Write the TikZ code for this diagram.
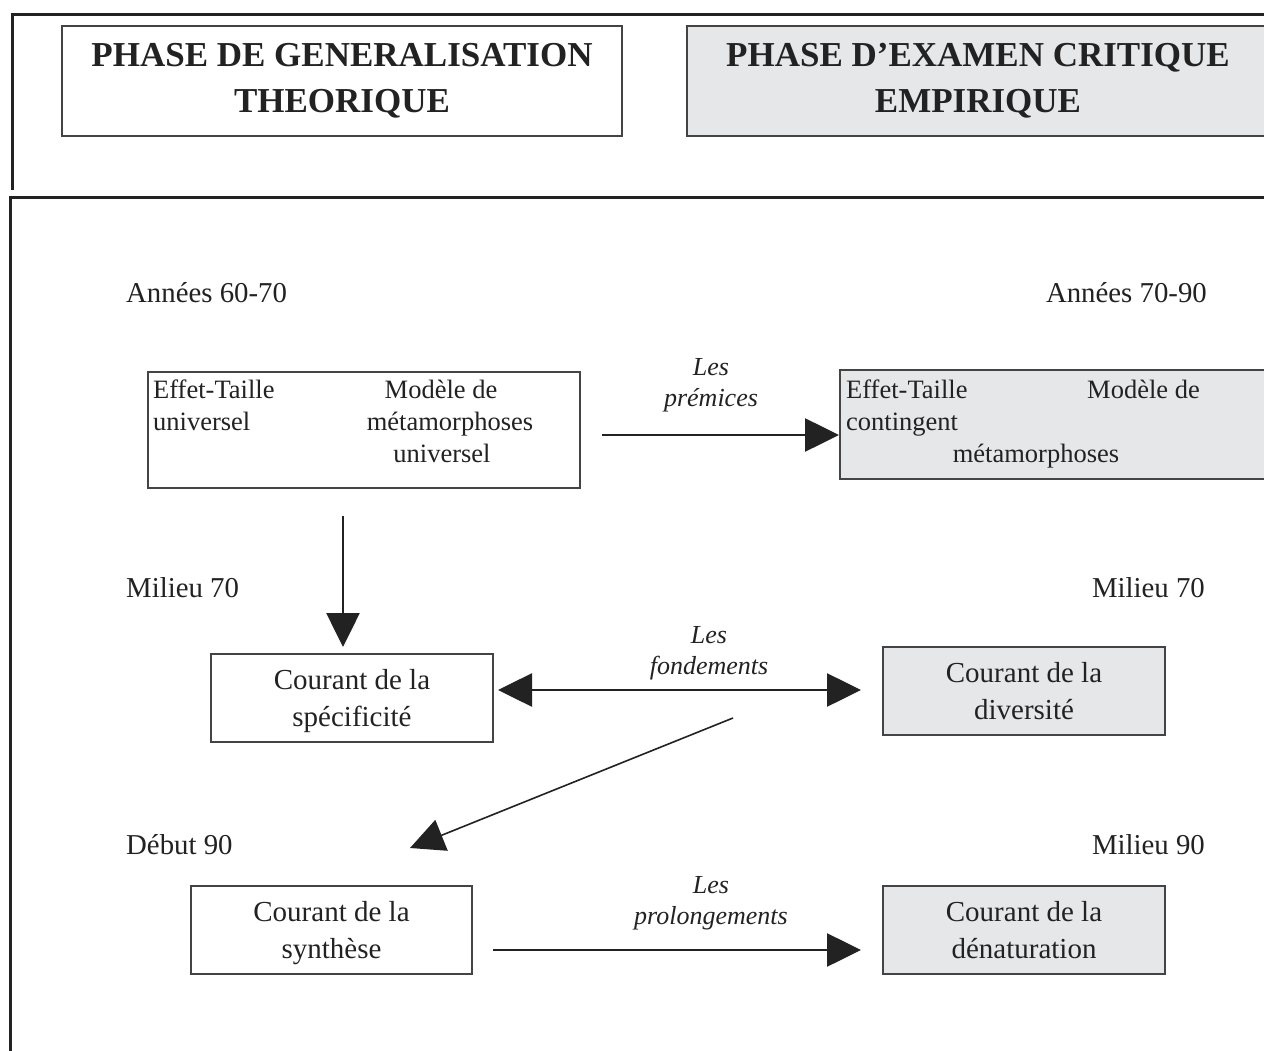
\documentclass[tikz,border=0pt]{standalone}
\usepackage{fontspec}
\setmainfont{Liberation Serif}
\usetikzlibrary{arrows.meta}
\definecolor{ink}{HTML}{222222}
\definecolor{boxline}{HTML}{444444}
\definecolor{greyfill}{HTML}{E6E7E8}
\tikzset{
  frame/.style={line width=3pt, draw=ink},
  box/.style={draw=boxline, line width=2pt, inner sep=0pt, text=ink, align=center},
  greybox/.style={box, fill=greyfill},
  hdr/.style={font=\fontsize{35}{46}\selectfont\bfseries},
  cour/.style={inner sep=0pt, text=ink, align=center, font=\fontsize{29}{37}\selectfont},
  txt/.style={inner sep=0pt, text=ink, font=\fontsize{26.5}{32}\selectfont},
  dlab/.style={inner sep=0pt, text=ink, font=\fontsize{28.8}{34}\selectfont},
  lab/.style={inner sep=0pt, text=ink, align=center, font=\fontsize{26}{31}\selectfont\itshape},
  arr/.style={-{Triangle[length=34pt,width=33pt]}, line width=2.6pt, draw=ink},
  darr/.style={{Triangle[length=34pt,width=33pt]}-{Triangle[length=34pt,width=33pt]}, line width=2.6pt, draw=ink},
  thinarr/.style={-{Triangle[length=34pt,width=33pt]}, line width=1.6pt, draw=ink},
}
\begin{document}
\begin{tikzpicture}[x=1pt,y=-1pt]
\useasboundingbox (0,0) rectangle (1264,1051);
\fill[white] (0,0) rectangle (1264,1051);
% frames
\draw[frame] (1270,15) -- (12,15) -- (12,190);
\draw[frame] (1270,198) -- (10,198) -- (10,1060);
% headers
\node[box, hdr, minimum width=560pt, minimum height=110pt] (H1) at (342,81) {PHASE DE GENERALISATION\\THEORIQUE};
\node[greybox, hdr, minimum width=582pt, minimum height=110pt] (H2) at (978,81) {PHASE D’EXAMEN CRITIQUE\\EMPIRIQUE};
% dates
\node[dlab, anchor=base west] (d1) at (126,302) {Années 60-70};
\node[dlab, anchor=base east] (d2) at (1207,302) {Années 70-90};
\node[dlab, anchor=base west] (d3) at (126,597) {Milieu 70};
\node[dlab, anchor=base east] (d4) at (1205,597) {Milieu 70};
\node[dlab, anchor=base west] (d5) at (126,854) {Début 90};
\node[dlab, anchor=base east] (d6) at (1205,854) {Milieu 90};
% box A
\node[box, minimum width=432pt, minimum height=116pt] (A) at (364,430) {};
\node[txt, anchor=base west] (a1) at (153,398) {Effet-Taille};
\node[txt, anchor=base west] (a2) at (153,430) {universel};
\node[txt, anchor=base] (a3) at (441,398) {Modèle de};
\node[txt, anchor=base] (a4) at (450,430) {métamorphoses};
\node[txt, anchor=base] (a5) at (442,462) {universel};
% box B
\node[greybox, minimum width=430pt, minimum height=109pt] (B) at (1055,424.5) {};
\node[txt, anchor=base west] (b1) at (846,398) {Effet-Taille};
\node[txt, anchor=base west] (b2) at (846,430) {contingent};
\node[txt, anchor=base west] (b3) at (1087,398) {Modèle de};
\node[txt, anchor=base] (b4) at (1036,462) {métamorphoses};
% boxes C-F
\node[box, minimum width=282pt, minimum height=88pt] (C) at (352,698) {};
\node[cour] (Ct) at ([yshift=-3pt]C.center) {Courant de la\\spécificité};
\node[greybox, minimum width=282pt, minimum height=88pt] (D) at (1024,691) {};
\node[cour] (Dt) at (D.center) {Courant de la\\diversité};
\node[box, minimum width=281pt, minimum height=88pt] (E) at (331.5,930) {};
\node[cour] (Et) at ([yshift=-3pt]E.center) {Courant de la\\synthèse};
\node[greybox, minimum width=282pt, minimum height=88pt] (F) at (1024,930) {};
\node[cour] (Ft) at (F.center) {Courant de la\\dénaturation};
% labels
\node[lab] (l1) at (711,385) {Les\\prémices};
\node[lab] (l2) at (709,653) {Les\\fondements};
\node[lab] (l3) at (711,903.5) {Les\\prolongements};
% arrows
\draw[arr] ([xshift=21pt,yshift=-5pt]A.east) -- ([yshift=-10.5pt]B.west);
\draw[arr] ([xshift=-21pt,yshift=-27pt]A.south) -- ([xshift=-9pt,yshift=6pt]C.north);
\draw[darr] ([xshift=4pt,yshift=8pt]C.east) -- ([xshift=-21pt,yshift=1pt]D.west);
\coordinate (g1) at (733,718);
\coordinate (g2) at (410,848);
\draw[thinarr] (g1) -- (g2);
\draw[arr] ([xshift=20pt,yshift=-20pt]E.east) -- ([xshift=-21pt,yshift=-20pt]F.west);
\end{tikzpicture}
\end{document}
